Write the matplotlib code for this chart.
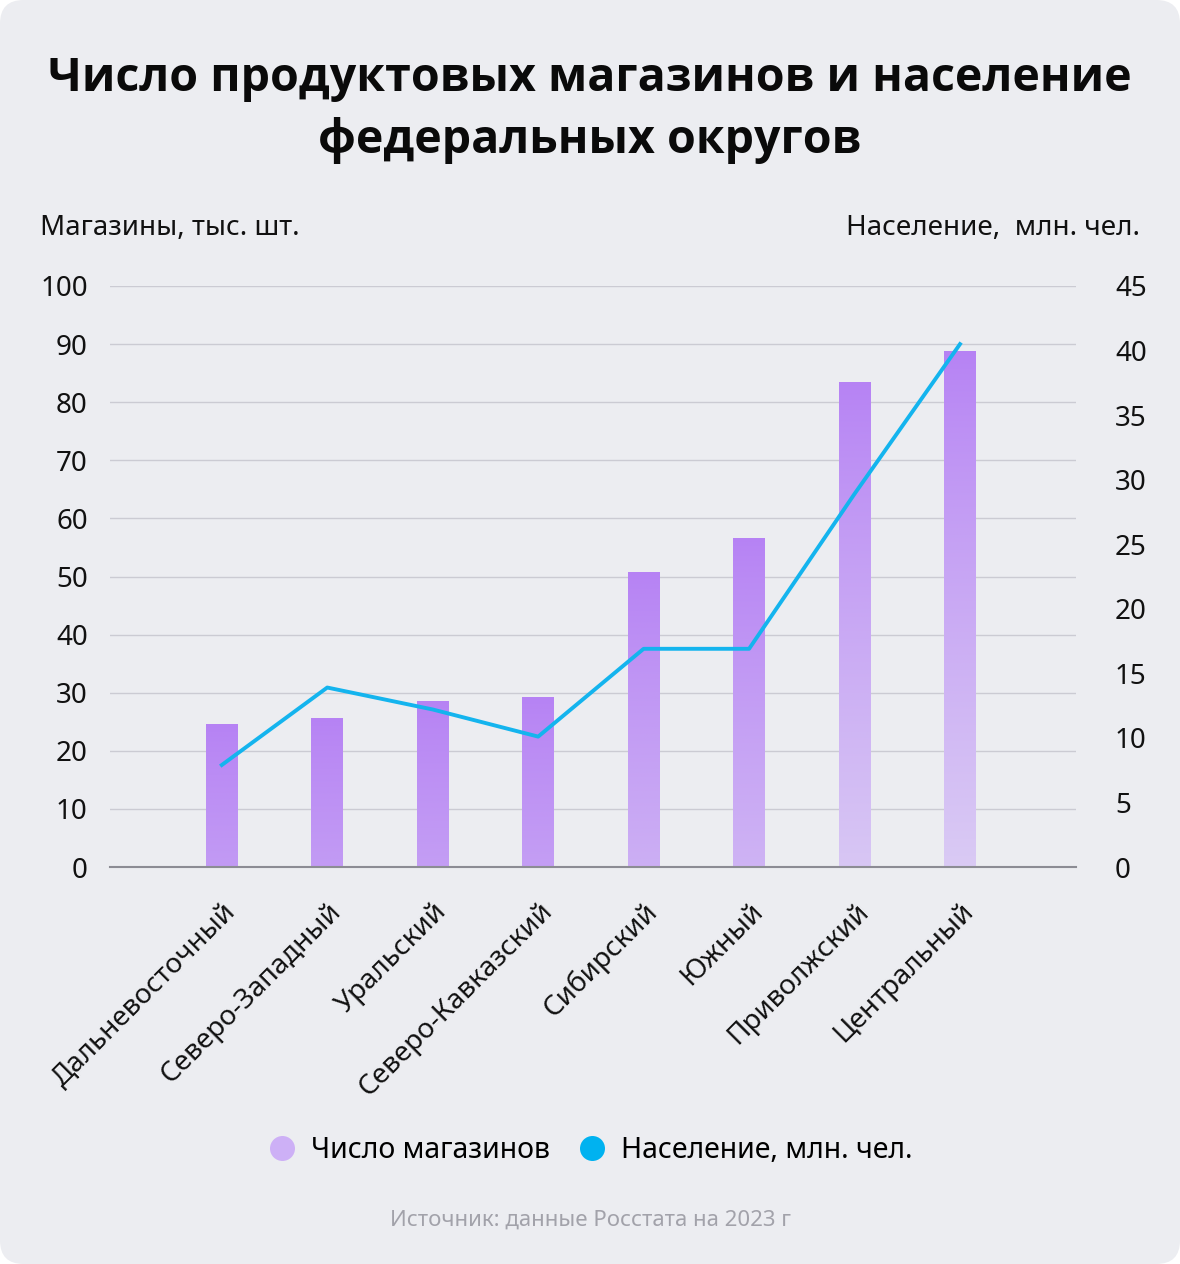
import matplotlib.pyplot as plt
import matplotlib.colors as mcolors
import numpy as np
from matplotlib.patches import FancyBboxPatch
from matplotlib.lines import Line2D

districts = ["Дальневосточный", "Северо-Западный", "Уральский", "Северо-Кавказский",
             "Сибирский", "Южный", "Приволжский", "Центральный"]
shops = [24.6, 25.6, 28.6, 29.3, 50.8, 56.6, 83.5, 88.8]
population = [7.9, 13.9, 12.2, 10.1, 16.9, 16.9, 28.9, 40.5]

left_ticks = list(range(0, 101, 10))
right_ticks = list(range(0, 46, 5))

FONT = "Noto Sans"
plt.rcParams["font.family"] = [FONT, "DejaVu Sans"]

fig = plt.figure(figsize=(11.8, 12.64), dpi=100)
fig.patch.set_facecolor("white")
card = FancyBboxPatch((0.0, 0.0), 1.0, 1.0, boxstyle="round,pad=0,rounding_size=0.02",
                      transform=fig.transFigure, facecolor="#ECEDF1", edgecolor="none",
                      zorder=-10, mutation_aspect=1180 / 1264)
fig.patches.append(card)

ax = fig.add_axes([110 / 1180, 1 - 867 / 1264, (1076 - 110) / 1180, (867 - 286) / 1264])
ax.set_facecolor("none")
ax2 = ax.twinx()

x = np.arange(len(districts))
bars = ax.bar(x, shops, width=0.3, color="none", zorder=2)

# vertical gradient inside each bar: darker at the top, lighter further down
dark = np.array(mcolors.to_rgb("#B682F4"))
light = np.array(mcolors.to_rgb("#DACBF4"))
for b in bars:
    h = b.get_height()
    depth = np.clip(np.linspace(h / 90.0, 0, 200), 0, 1) ** 0.85
    img = dark + (light - dark) * depth[:, None, None]
    im = ax.imshow(img, extent=[b.get_x(), b.get_x() + b.get_width(), 0, h],
                   origin="lower", aspect="auto", zorder=2)
    im.set_clip_path(b)

ax.set_xlim(-1.06, 8.1)
ax.set_ylim(0, 100)
ax.set_yticks(left_ticks)
ax.grid(axis="y", color="#CBCBD3", linewidth=1, zorder=0)
ax.set_axisbelow(True)
for s in ["top", "right", "left"]:
    ax.spines[s].set_visible(False)
ax.spines["bottom"].set_color("#8C8C94")
ax.spines["bottom"].set_linewidth(1.5)
ax.spines["bottom"].set_zorder(3)
ax.tick_params(axis="y", length=0, pad=16, labelsize=20, labelcolor="#111111")
ax.tick_params(axis="x", length=0, pad=22)
ax.set_xticks(x)
ax.set_xticklabels(districts, rotation=45, ha="right", rotation_mode="anchor",
                   fontsize=20, color="#111111")

ax2.plot(x, population, color="#14B4EE", linewidth=2.8, zorder=4)
ax2.set_ylim(0, 45)
ax2.set_yticks(right_ticks)
ax2.tick_params(axis="y", length=0, pad=28, labelsize=20, labelcolor="#111111")
for s in ["top", "right", "left", "bottom"]:
    ax2.spines[s].set_visible(False)

fig.text(0.5, 1 - 78 / 1264, "Число продуктовых магазинов и население",
         ha="center", va="center", fontsize=33.5, fontweight="bold", color="#0A0A0A",
         family=["Open Sans", "DejaVu Sans"])
fig.text(0.5, 1 - 141 / 1264, "федеральных округов",
         ha="center", va="center", fontsize=33.5, fontweight="bold", color="#0A0A0A",
         family=["Open Sans", "DejaVu Sans"])

fig.text(40 / 1180, 1 - 228 / 1264, "Магазины, тыс. шт.", ha="left", va="center",
         fontsize=20, color="#111111")
fig.text(1140 / 1180, 1 - 228 / 1264, "Население,  млн. чел.", ha="right", va="center",
         fontsize=20, color="#111111")

handles = [
    Line2D([], [], linestyle="none", marker="o", markersize=18,
           markerfacecolor="#CDB0F6", markeredgecolor="none"),
    Line2D([], [], linestyle="none", marker="o", markersize=18,
           markerfacecolor="#00B2F0", markeredgecolor="none"),
]
fig.legend(handles, ["Число магазинов", "Население, млн. чел."], loc="center",
           bbox_to_anchor=(0.5, 1 - 1150 / 1264), ncol=2, frameon=False,
           fontsize=20.5, handletextpad=0.5, columnspacing=1.0, handlelength=1.0)

fig.text(0.5, 1 - 1220 / 1264, "Источник: данные Росстата на 2023 г", ha="center",
         va="center", fontsize=16, color="#A2A2AA")

fig.savefig("out.png", dpi=100, facecolor=fig.get_facecolor())
